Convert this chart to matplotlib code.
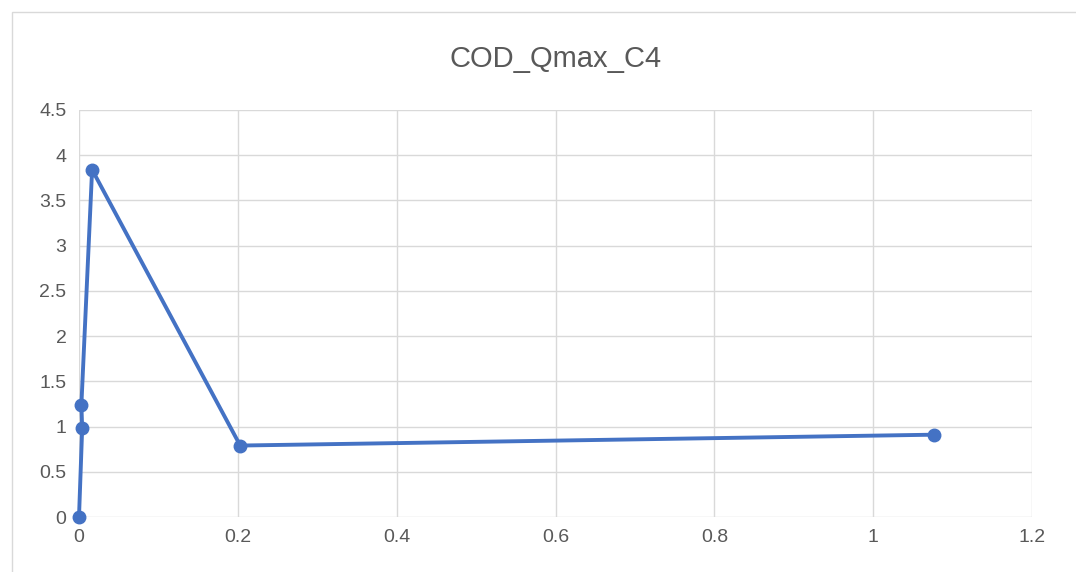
import matplotlib
matplotlib.use('Agg')
import matplotlib.pyplot as plt
from matplotlib.patches import Rectangle

# Data
x_vals = [0.0, 0.004, 0.003, 0.0165, 0.203, 1.076]
y_vals = [0.0, 0.98, 1.24, 3.84, 0.79, 0.91]
title = 'COD_Qmax_C4'
x_ticks = [0, 0.2, 0.4, 0.6, 0.8, 1.0, 1.2]
x_labels = ['0', '0.2', '0.4', '0.6', '0.8', '1', '1.2']
y_ticks = [0, 0.5, 1, 1.5, 2, 2.5, 3, 3.5, 4, 4.5]
y_labels = ['0', '0.5', '1', '1.5', '2', '2.5', '3', '3.5', '4', '4.5']

plt.rcParams['font.family'] = ['Liberation Sans', 'DejaVu Sans']

W, H = 1076, 572
fig = plt.figure(figsize=(W / 100, H / 100), dpi=100)
# outer chart border
fig.patches.append(Rectangle((12 / W, -0.01), 1.2, 1 - 12 / H + 0.01, transform=fig.transFigure,
                             fill=False, edgecolor='#d9d9d9', lw=1))

ax = fig.add_axes([79 / W, 1 - 517 / H, (1032 - 79) / W, (517 - 110) / H])
ax.plot(x_vals, y_vals, color='#4472c4', lw=2.8, marker='o', markersize=9, zorder=3,
        solid_joinstyle='round', clip_on=False)
ax.set_xlim(0, 1.2)
ax.set_ylim(0, 4.5)
ax.set_xticks(x_ticks)
ax.set_xticklabels(x_labels)
ax.set_yticks(y_ticks)
ax.set_yticklabels(y_labels)
ax.grid(True, color='#d9d9d9', lw=1)
ax.set_axisbelow(True)
for s in ax.spines.values():
    s.set_visible(False)
ax.tick_params(length=0, labelsize=14, labelcolor='#595959', pad=9)
ax.set_title(title, fontsize=21, color='#595959', pad=31)

fig.savefig('out.png', dpi=100)
